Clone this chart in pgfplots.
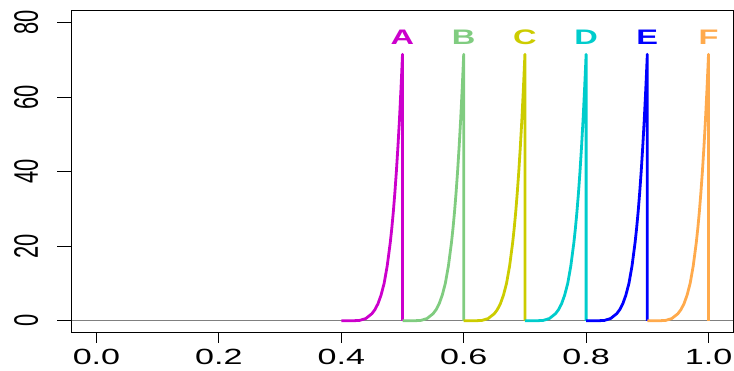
\documentclass[border=0pt]{standalone}
\usepackage{pgfplots}
\pgfplotsset{compat=1.18}
\usepackage{fontspec}
\setmainfont{Liberation Sans}[FakeStretch=1.55]
\newfontfamily\yfont{Liberation Sans}[FakeStretch=0.645]
\newfontfamily\labfont{Liberation Sans}[FakeStretch=1.55]
\definecolor{cA}{HTML}{CC00CC}
\definecolor{cB}{HTML}{80CC80}
\definecolor{cC}{HTML}{CCCC00}
\definecolor{cD}{HTML}{00CCCC}
\definecolor{cE}{HTML}{0000FF}
\definecolor{cF}{HTML}{FFAA4C}
\begin{document}
\begin{tikzpicture}
\path[use as bounding box] (-72pt,-38.3pt) rectangle (662pt,332.7pt);
\begin{axis}[at={(0pt,0pt)}, anchor=south west, scale only axis,
  width=661pt, height=322pt,
  xmin=-0.04, xmax=1.04, ymin=-3.2, ymax=83.2,
  xtick={0,0.2,0.4,0.6,0.8,1}, ytick={0,20,40,60,80},
  tick pos=left, tick align=outside, major tick length=10pt,
  y tick style={/pgfplots/major tick length=15pt},
  tick style={black, line width=0.8pt},
  axis line style={black, line width=1pt},
  xticklabel shift=6.5pt,
  yticklabel shift=23.7pt,
  x tick label style={font=\fontsize{22}{22}\selectfont, inner sep=0pt, anchor=north,
    /pgf/number format/.cd, fixed, fixed zerofill, precision=1, assume math mode=true},
  y tick label style={font=\yfont\fontsize{34}{34}\selectfont, rotate=90, anchor=south, inner sep=0pt,
    /pgf/number format/.cd, assume math mode=true},
  every axis plot/.append style={line width=2.8pt, line join=round},
]
\addplot[gray, line width=1pt] coordinates {(-0.04,0) (1.04,0)};
\addplot[cA] coordinates {(0.40,0) (0.42,0.01) (0.43,0.1) (0.44,0.6) (0.45,1.9) (0.455,3.0) (0.46,4.6) (0.465,6.9) (0.47,10.05) (0.475,14.7) (0.48,20.96) (0.4825,24.8) (0.485,29.2) (0.4875,34.3) (0.49,40.05) (0.4925,46.6) (0.495,53.9) (0.4975,62.2) (0.499,67.7) (0.5,71.5) (0.5,0)};
\addplot[cB] coordinates {(0.50,0) (0.52,0.01) (0.53,0.1) (0.54,0.6) (0.55,1.9) (0.555,3.0) (0.56,4.6) (0.565,6.9) (0.57,10.05) (0.575,14.7) (0.58,20.96) (0.5825,24.8) (0.585,29.2) (0.5875,34.3) (0.59,40.05) (0.5925,46.6) (0.595,53.9) (0.5975,62.2) (0.599,67.7) (0.6,71.5) (0.6,0)};
\addplot[cC] coordinates {(0.60,0) (0.62,0.01) (0.63,0.1) (0.64,0.6) (0.65,1.9) (0.655,3.0) (0.66,4.6) (0.665,6.9) (0.67,10.05) (0.675,14.7) (0.68,20.96) (0.6825,24.8) (0.685,29.2) (0.6875,34.3) (0.69,40.05) (0.6925,46.6) (0.695,53.9) (0.6975,62.2) (0.699,67.7) (0.7,71.5) (0.7,0)};
\addplot[cD] coordinates {(0.70,0) (0.72,0.01) (0.73,0.1) (0.74,0.6) (0.75,1.9) (0.755,3.0) (0.76,4.6) (0.765,6.9) (0.77,10.05) (0.775,14.7) (0.78,20.96) (0.7825,24.8) (0.785,29.2) (0.7875,34.3) (0.79,40.05) (0.7925,46.6) (0.795,53.9) (0.7975,62.2) (0.799,67.7) (0.8,71.5) (0.8,0)};
\addplot[cE] coordinates {(0.80,0) (0.82,0.01) (0.83,0.1) (0.84,0.6) (0.85,1.9) (0.855,3.0) (0.86,4.6) (0.865,6.9) (0.87,10.05) (0.875,14.7) (0.88,20.96) (0.8825,24.8) (0.885,29.2) (0.8875,34.3) (0.89,40.05) (0.8925,46.6) (0.895,53.9) (0.8975,62.2) (0.899,67.7) (0.9,71.5) (0.9,0)};
\addplot[cF] coordinates {(0.90,0) (0.92,0.01) (0.93,0.1) (0.94,0.6) (0.95,1.9) (0.955,3.0) (0.96,4.6) (0.965,6.9) (0.97,10.05) (0.975,14.7) (0.98,20.96) (0.9825,24.8) (0.985,29.2) (0.9875,34.3) (0.99,40.05) (0.9925,46.6) (0.995,53.9) (0.9975,62.2) (0.999,67.7) (1.0,71.5) (1.0,0)};
\node[text=cA, font=\labfont\bfseries\fontsize{21}{21}\selectfont, inner sep=0pt] at (axis cs:0.5,76.2) {A};
\node[text=cB, font=\labfont\bfseries\fontsize{21}{21}\selectfont, inner sep=0pt] at (axis cs:0.6,76.2) {B};
\node[text=cC, font=\labfont\bfseries\fontsize{21}{21}\selectfont, inner sep=0pt] at (axis cs:0.7,76.2) {C};
\node[text=cD, font=\labfont\bfseries\fontsize{21}{21}\selectfont, inner sep=0pt] at (axis cs:0.8,76.2) {D};
\node[text=cE, font=\labfont\bfseries\fontsize{21}{21}\selectfont, inner sep=0pt] at (axis cs:0.9,76.2) {E};
\node[text=cF, font=\labfont\bfseries\fontsize{21}{21}\selectfont, inner sep=0pt] at (axis cs:1.0,76.2) {F};
\end{axis}
\end{tikzpicture}
\end{document}
